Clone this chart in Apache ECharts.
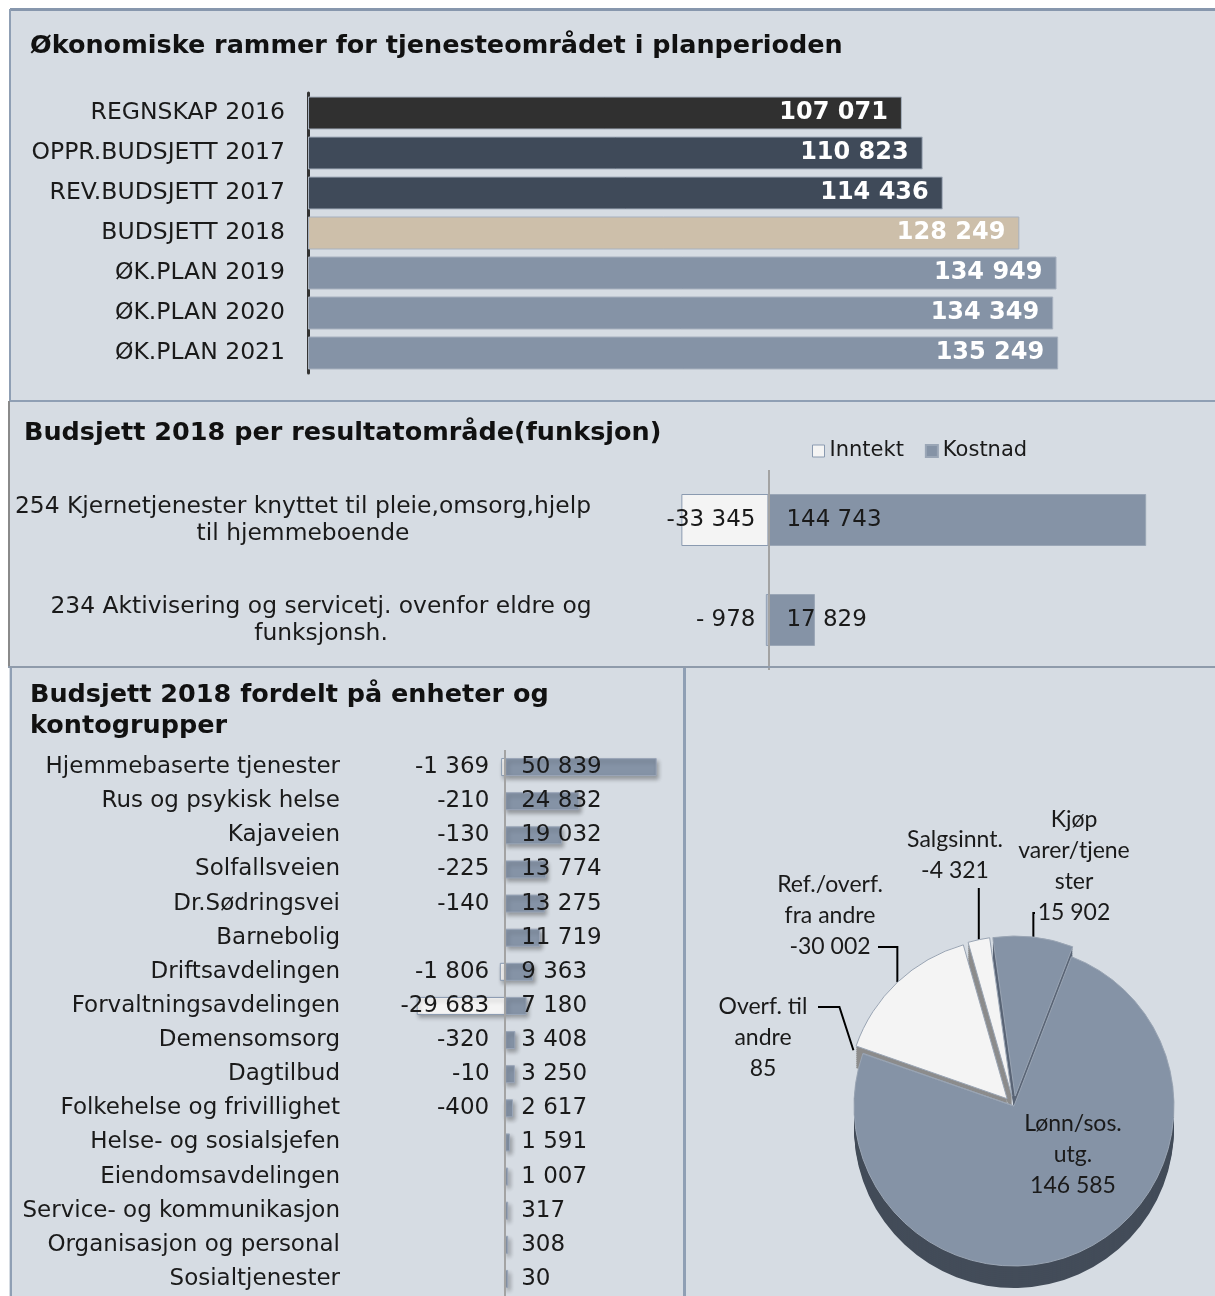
<!DOCTYPE html>
<html><head><meta charset="utf-8">
<script src="https://cdn.jsdelivr.net/npm/echarts@6/dist/echarts.min.js"></script>
<style>html,body{margin:0;padding:0;background:#fff}#c{width:1215px;height:1296px}</style>
</head><body><div id="c"></div>
<script>
// ---------- DATA ----------
const topCats = ['REGNSKAP 2016','OPPR.BUDSJETT 2017','REV.BUDSJETT 2017','BUDSJETT 2018','ØK.PLAN 2019','ØK.PLAN 2020','ØK.PLAN 2021'];
const topValues = [107071,110823,114436,128249,134949,134349,135249];

const midCats = ['254 Kjernetjenester knyttet til pleie,omsorg,hjelp\ntil hjemmeboende','234 Aktivisering og servicetj. ovenfor eldre og\nfunksjonsh.'];
const midInntekt = [-33345,-978];
const midKostnad = [144743,17829];

const unitCats = ['Hjemmebaserte tjenester','Rus og psykisk helse','Kajaveien','Solfallsveien','Dr.Sødringsvei','Barnebolig','Driftsavdelingen','Forvaltningsavdelingen','Demensomsorg','Dagtilbud','Folkehelse og frivillighet','Helse- og sosialsjefen','Eiendomsavdelingen','Service- og kommunikasjon','Organisasjon og personal','Sosialtjenester'];
const unitInntekt = [-1369,-210,-130,-225,-140,null,-1806,-29683,-320,-10,-400,null,null,null,null,null];
const unitKostnad = [50839,24832,19032,13774,13275,11719,9363,7180,3408,3250,2617,1591,1007,317,308,30];

const pieNames = ['Kjøp\nvarer/tjene\nster','Lønn/sos.\nutg.','Overf. til\nandre','Ref./overf.\nfra andre','Salgsinnt.'];
const pieValues = [15902,146585,85,-30002,-4321];

// ---------- STYLE ----------
const FONT = 'DejaVu Sans';
const TXT = '#1a1a1a';
const topColors = ['#303030','#3f4a59','#3f4a59','#cdbfaa','#8593a6','#8593a6','#8593a6'];
const pieTop = ['#8593a6','#8593a6','#3a424d','#f4f4f4','#f4f4f4'];
const pieSide = ['#5a6576','#434c59','#2c323a','#8c8c8c','#8c8c8c'];
const pieExploded = [true,false,false,true,true];
const PIE_C = [1014,1106], PIE_R = 160, PIE_OFF = 10, PIE_DEPTH = 22, PIE_START = 98;
// label placement for the pie (text block centre x, top y, leader attach)
const pieLabelLayout = {
  0: {x:1074, y:804, via:913, end:1035},
  2: {x:763, y:991, via:1007, end:818, dx:-14},
  3: {x:830, y:869, via:947, end:878},
  4: {x:955, y:824, via:888}
};

function grp(v){
  const a = Math.abs(Math.round(v)).toString().replace(/\B(?=(\d{3})+(?!\d))/g,' ');
  return (v < 0 ? '-' : '') + a;
}
function grpMid(v){ // "### ###" style: a space placeholder for short numbers
  const a = Math.abs(v);
  if (v < 0 && a < 1000) return '- ' + a;
  return grp(v);
}

const chart = echarts.init(document.getElementById('c'));

const pieData = (withSel) => pieValues.map((v,i)=>({
  name: pieNames[i], value: Math.abs(v), signed: v,
  selected: withSel && pieExploded[i]
}));

const sideSeries = [];
for (let k = PIE_DEPTH; k >= 2; k -= 2) {
  sideSeries.push({
    type:'pie', silent:true, center:[PIE_C[0], PIE_C[1]+k], radius:PIE_R,
    startAngle:PIE_START, clockwise:true, selectedMode:'multiple', selectedOffset:PIE_OFF,
    label:{show:false}, labelLine:{show:false}, emphasis:{disabled:true},
    itemStyle:{color:(p)=>pieSide[p.dataIndex]},
    data: pieData(true)
  });
}

const zeroLine = {silent:true, symbol:'none', label:{show:false},
  lineStyle:{color:'#a3a3a3', width:2, type:'solid'}, data:[{xAxis:0}]};

const gridBase = {outerBoundsMode:'none', containLabel:false};

const option = {
  animation:false,
  backgroundColor:'#ffffff',
  graphic:{elements:[
    {type:'rect', z:-10, shape:{x:9,y:9,width:1206,height:1287}, style:{fill:'#d6dce3'}},
    {type:'rect', z:100, shape:{x:10,y:8,width:1205,height:3}, style:{fill:'#8797ad'}},
    {type:'rect', z:100, shape:{x:9,y:9,width:2,height:392}, style:{fill:'#8f9fb4'}},
    {type:'rect', z:100, shape:{x:9,y:400,width:1206,height:2}, style:{fill:'#8f9fb4'}},
    {type:'rect', z:100, shape:{x:8,y:401,width:2,height:267}, style:{fill:'#8a8a8a'}},
    {type:'rect', z:100, shape:{x:8,y:666,width:1207,height:2}, style:{fill:'#8f9bab'}},
    {type:'rect', z:100, shape:{x:10,y:668,width:2,height:628}, style:{fill:'#8f9fb4'}},
    {type:'rect', z:100, shape:{x:683,y:668,width:3,height:628}, style:{fill:'#8f9fb4'}}
  ]},
  title:[
    {text:'Økonomiske rammer for tjenesteområdet i planperioden', left:30, top:31, padding:0,
     textStyle:{fontFamily:FONT, fontWeight:'bold', fontSize:25.5, lineHeight:30, color:'#111'}},
    {text:'Budsjett 2018 per resultatområde(funksjon)', left:24, top:418, padding:0,
     textStyle:{fontFamily:FONT, fontWeight:'bold', fontSize:25.5, lineHeight:30, color:'#111'}},
    {text:'Budsjett 2018 fordelt på enheter og\nkontogrupper', left:30, top:680, padding:0,
     textStyle:{fontFamily:FONT, fontWeight:'bold', fontSize:25.5, lineHeight:31, color:'#111'}}
  ],
  legend:{
    left:812, top:439, padding:0, itemWidth:12, itemHeight:12, itemGap:21, icon:'rect',
    textStyle:{fontFamily:FONT, fontSize:21, lineHeight:24, color:TXT, padding:[0,0,0,0]},
    data:[{name:'Inntekt', itemStyle:{color:'#f4f4f4', borderColor:'#8a9ab0', borderWidth:1}},
          {name:'Kostnad', itemStyle:{color:'#8593a6'}}]
  },
  grid:[
    Object.assign({left:308, top:93, width:832, height:280}, gridBase),
    Object.assign({left:664, top:470, width:522, height:200}, gridBase),
    Object.assign({left:386, top:750, width:298, height:546}, gridBase)
  ],
  xAxis:[
    {gridIndex:0, type:'value', min:0, max:150000, show:false},
    {gridIndex:1, type:'value', min:-40000, max:160000, show:false},
    {gridIndex:2, type:'value', min:-40000, max:60000, show:false}
  ],
  yAxis:[
    {gridIndex:0, type:'category', data:topCats, inverse:true,
     axisTick:{show:false}, axisLine:{onZero:false, lineStyle:{color:'#333', width:3}},
     axisLabel:{fontFamily:FONT, fontSize:23.5, color:TXT, margin:23}},
    {gridIndex:1, type:'category', data:midCats, inverse:true,
     axisTick:{show:false}, axisLine:{show:false, onZero:false},
     axisLabel:{align:'center', margin:361,
       formatter:(v,i)=>v.split('\n').map(s=>'{l'+i+'|'+s+'}').join('\n'),
       rich:{
         l0:{fontFamily:FONT, fontSize:23.4, lineHeight:27, color:TXT, align:'center'},
         l1:{fontFamily:FONT, fontSize:23.4, lineHeight:27, color:TXT, align:'center', padding:[0,0,0,36]}
       }}},
    {gridIndex:2, type:'category', data:unitCats, inverse:true,
     axisTick:{show:false}, axisLine:{show:false, onZero:false},
     axisLabel:{fontFamily:FONT, fontSize:23, color:TXT, margin:46}}
  ],
  series:[
    {type:'bar', xAxisIndex:0, yAxisIndex:0, data:topValues, barWidth:33,
     itemStyle:{color:(p)=>topColors[p.dataIndex], borderColor:'#a7b1bf', borderWidth:1},
     label:{show:true, position:'insideRight', distance:14, formatter:(p)=>grp(p.value),
       fontFamily:FONT, fontWeight:'bold', fontSize:24, color:'#fff'}},
    {name:'Inntekt', type:'bar', stack:'m', xAxisIndex:1, yAxisIndex:1, data:midInntekt, barWidth:52,
     itemStyle:{color:'#f4f4f4', borderColor:'#8a9ab0', borderWidth:1},
     label:{show:true, position:'insideRight', distance:13, formatter:(p)=>grpMid(p.value),
       fontFamily:FONT, fontSize:23, color:TXT}},
    {name:'Kostnad', type:'bar', stack:'m', xAxisIndex:1, yAxisIndex:1, data:midKostnad, barWidth:52,
     itemStyle:{color:'#8593a6', borderColor:'#9aa6b6', borderWidth:1},
     label:{show:true, position:'insideLeft', distance:18, formatter:(p)=>grpMid(p.value),
       fontFamily:FONT, fontSize:23, color:TXT},
     markLine: zeroLine},
    {name:'Inntekt', type:'bar', stack:'u', xAxisIndex:2, yAxisIndex:2, data:unitInntekt, barWidth:18,
     itemStyle:{color:'#f4f4f4', borderColor:'#8a9ab0', borderWidth:1,
       shadowBlur:4, shadowColor:'rgba(0,0,0,0.3)', shadowOffsetX:2, shadowOffsetY:3},
     label:{show:true, position:'insideRight', distance:16, formatter:(p)=>grp(p.value),
       fontFamily:FONT, fontSize:23, color:TXT}},
    {name:'Kostnad', type:'bar', stack:'u', xAxisIndex:2, yAxisIndex:2, data:unitKostnad, barWidth:18, barMinHeight:3,
     itemStyle:{color:'#8593a6', borderColor:'#9aa6b8', borderWidth:1,
       shadowBlur:4, shadowColor:'rgba(0,0,0,0.3)', shadowOffsetX:2, shadowOffsetY:3},
     label:{show:true, position:'insideLeft', distance:16, formatter:(p)=>grp(p.value),
       fontFamily:FONT, fontSize:23, color:TXT},
     markLine: zeroLine},
    ...sideSeries,
    {type:'pie', center:PIE_C, radius:PIE_R, startAngle:PIE_START, clockwise:true,
     selectedMode:'multiple', selectedOffset:PIE_OFF, emphasis:{disabled:true},
     label:{show:false}, labelLine:{show:false},
     itemStyle:{color:(p)=>pieTop[p.dataIndex], borderColor:'#9aa5b4', borderWidth:1},
     data: pieData(true)},
    {type:'pie', silent:true, center:PIE_C, radius:PIE_R+PIE_OFF, startAngle:PIE_START, clockwise:true,
     avoidLabelOverlap:false, emphasis:{disabled:true},
     itemStyle:{color:'rgba(0,0,0,0)'},
     label:{show:true, position:'outside', formatter:(p)=>p.name+'\n'+grp(p.data.signed),
       fontFamily:'Lato', fontSize:23, lineHeight:31, color:TXT, align:'center'},
     labelLine:{show:true, length:10, length2:10, lineStyle:{color:'#000', width:2}},
     labelLayout:(params)=>{
       const c = pieLabelLayout[params.dataIndex];
       if (!c) return {x:1073, y:1155, align:'center', verticalAlign:'middle'};
       const a = params.labelLinePoints ? params.labelLinePoints[0] : null;
       const out = {x:c.x, y:c.y, align:'center', verticalAlign:'top'};
       if (a) {
         const vx = a[0] + (c.dx || 0);
         out.labelLinePoints = c.end != null ? [a, [vx, c.via], [c.end, c.via]] : [a, [a[0], c.via]];
       }
       return out;
     },
     data: pieValues.map((v,i)=>(i===1 ? {name:pieNames[i], value:Math.abs(v), signed:v,
        label:{position:'inside'}, labelLine:{show:false}} : {name:pieNames[i], value:Math.abs(v), signed:v}))}
  ]
};
chart.setOption(option);
</script></body></html>
